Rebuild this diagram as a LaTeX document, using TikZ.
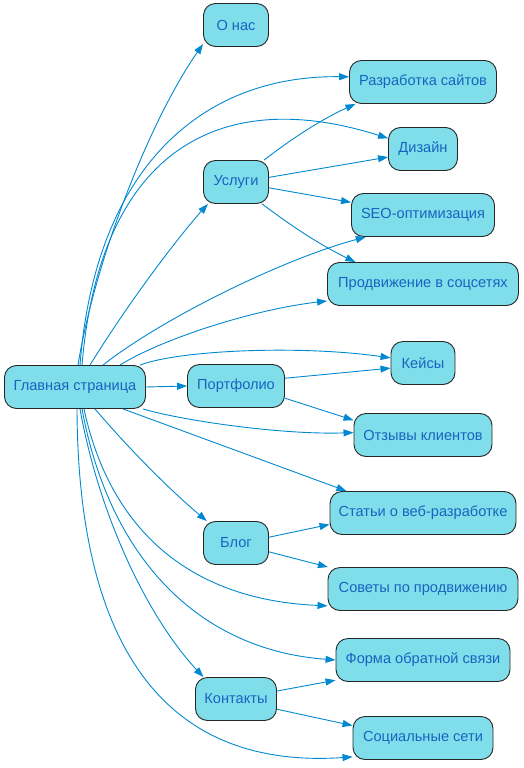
\documentclass[tikz,border=0pt]{standalone}
\usepackage{fontspec}
\setmainfont{Liberation Sans}
\usetikzlibrary{arrows.meta}
\definecolor{nodefill}{HTML}{80DEEA}
\definecolor{nodetext}{HTML}{1565C0}
\definecolor{edgecol}{HTML}{0288D1}
\begin{document}
\begin{tikzpicture}[x=1pt,y=-1pt,
  box/.style={draw=black!85, fill=nodefill, text=nodetext, rounded corners=12pt,
    minimum height=43pt, inner xsep=4pt, line width=0.9pt,
    font=\fontsize{14.6}{16}\selectfont},
  link/.style={draw=edgecol, line width=0.9pt, -{Triangle[length=10pt,width=7pt]}}]
\useasboundingbox (0,0) rectangle (524,768);
% nodes
\node[box, minimum width=141pt] (main) at (75,387) {Главная страница};
\node[box, minimum width=65pt] (onas) at (236,25) {О нас};
\node[box, minimum width=65pt] (uslugi) at (236,182) {Услуги};
\node[box, minimum width=97pt] (portfolio) at (236,386) {Портфолио};
\node[box, minimum width=65pt] (blog) at (236,543) {Блог};
\node[box, minimum width=81pt] (kontakty) at (236,699) {Контакты};
\node[box, minimum width=147pt] (razrab) at (423,82) {Разработка сайтов};
\node[box, minimum width=69pt] (dizain) at (423,149) {Дизайн};
\node[box, minimum width=143pt] (seo) at (423,215) {SEO-оптимизация};
\node[box, minimum width=191pt] (prodv) at (423,284) {Продвижение в соцсетях};
\node[box, minimum width=64pt] (keysy) at (423,363) {Кейсы};
\node[box, minimum width=138pt] (otzyvy) at (423,435) {Отзывы клиентов};
\node[box, minimum width=186pt] (stati) at (423,513) {Статьи о веб-разработке};
\node[box, minimum width=190pt] (sovety) at (423,589) {Советы по продвижению};
\node[box, minimum width=174pt] (forma) at (423,660) {Форма обратной связи};
\node[box, minimum width=140pt] (soc) at (423,738) {Социальные сети};
% edges from main (upwards)
\draw[link] ([xshift=3pt]main.north) .. controls (95,260) and (150,120) .. (onas.210);
\draw[link] ([xshift=5pt]main.north) .. controls (95,170) and (200,75) .. (razrab.176);
\draw[link] ([xshift=7pt]main.north) .. controls (100,150) and (220,85) .. (dizain.163);
\draw[link] ([xshift=15pt]main.north) .. controls (130,300) and (180,235) .. (uslugi.218);
\draw[link] ([xshift=28pt]main.north) .. controls (160,320) and (280,260) .. (seo.201);
\draw[link] ([xshift=45pt]main.north) .. controls (160,340) and (250,310) .. (prodv.190);
\draw[link] ([xshift=65pt]main.north) .. controls (180,350) and (300,345) .. (keysy.171);
\draw[link] (main.east) -- (portfolio.west);
% edges from main (downwards)
\draw[link] ([xshift=68pt]main.south) .. controls (180,420) and (280,435) .. (otzyvy.178);
\draw[link] ([xshift=48pt]main.south) -- (stati.164);
\draw[link] ([xshift=20pt]main.south) .. controls (130,450) and (170,490) .. (blog.143);
\draw[link] ([xshift=9pt]main.south) .. controls (110,530) and (190,600) .. (sovety.190);
\draw[link] ([xshift=7pt]main.south) .. controls (110,560) and (200,650) .. (forma.180);
\draw[link] ([xshift=5pt]main.south) .. controls (100,520) and (150,620) .. (kontakty.146);
\draw[link] ([xshift=2pt]main.south) .. controls (78,640) and (160,770) .. (soc.195);
% second level
\draw[link] (uslugi.38) .. controls (290,140) and (320,120) .. (razrab.198);
\draw[link] (uslugi.8) -- (dizain.193);
\draw[link] (uslugi.350) -- (seo.170);
\draw[link] (uslugi.320) .. controls (290,225) and (320,245) .. (prodv.162);
\draw[link] (portfolio.9) -- (keysy.189);
\draw[link] (portfolio.346) -- (otzyvy.168);
\draw[link] (blog.10) -- (stati.187);
\draw[link] (blog.345) -- (sovety.167);
\draw[link] (kontakty.11) -- (forma.193);
\draw[link] (kontakty.346) -- (soc.170);
\end{tikzpicture}
\end{document}
